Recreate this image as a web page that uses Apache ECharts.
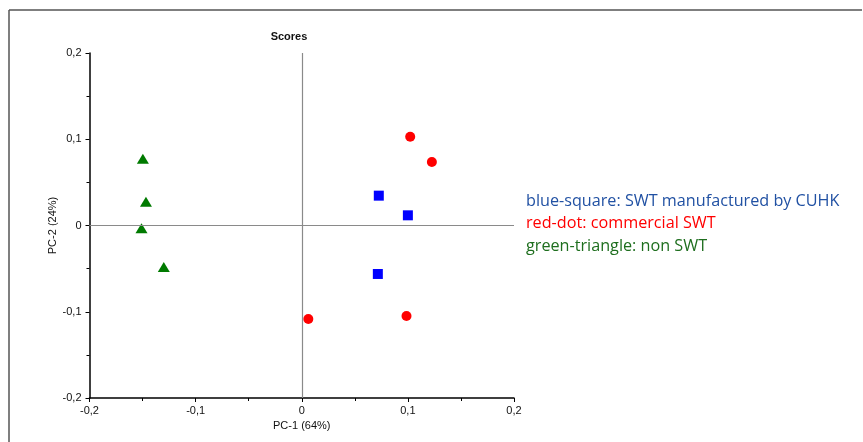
<!DOCTYPE html>
<html>
<head>
<meta charset="utf-8">
<script src="https://cdn.jsdelivr.net/npm/echarts@6/dist/echarts.min.js"></script>
<style>
html,body{margin:0;padding:0;background:#fff;}
#chart{width:863px;height:442px;}
</style>
</head>
<body>
<div id="chart"></div>
<script>
// Data
const blueSquare = [[0.0726, 0.0346], [0.1000, 0.0118], [0.0717, -0.0562]];
const redDot = [[0.1022, 0.1030], [0.1226, 0.0736], [0.0062, -0.1084], [0.0987, -0.1049]];
const greenTriangle = [[-0.1497, 0.0775], [-0.1468, 0.0276], [-0.1510, -0.0032], [-0.1300, -0.0480]];
const axisTicks = [-0.2, -0.1, 0, 0.1, 0.2];
const legendLines = [
  'blue-square: SWT manufactured by CUHK',
  'red-dot: commercial SWT',
  'green-triangle: non SWT'
];
const legendColors = ['#2151A3', '#FF0000', '#1E6E1E'];

const fmt = v => {
  if (Math.abs(v) < 1e-9) return '0';
  return String(+v.toFixed(1)).replace('.', ',');
};

const chart = echarts.init(document.getElementById('chart'), null, {renderer: 'canvas'});
const axisFont = {fontFamily: 'Liberation Sans, Arial', fontSize: 11, color: '#111'};

const option = {
  backgroundColor: '#fff',
  animation: false,
  title: {
    text: 'Scores', left: 284, top: 26, textAlign: 'center',
    textStyle: {fontFamily: 'Liberation Sans, Arial', fontSize: 11, fontWeight: 'bold', color: '#111'}
  },
  grid: {left: 89.5, right: 349, top: 53, bottom: 44, containLabel: false},
  xAxis: {
    type: 'value', min: axisTicks[0], max: axisTicks[axisTicks.length - 1], interval: 0.1,
    name: 'PC-1 (64%)', nameLocation: 'middle', nameGap: 22,
    nameTextStyle: axisFont,
    axisLine: {onZero: false, lineStyle: {color: '#000', width: 1.5}},
    axisTick: {show: true, inside: false, length: 4, lineStyle: {color: '#000'}},
    minorTick: {show: true, splitNumber: 2, length: 3, lineStyle: {color: '#000'}},
    splitLine: {show: false},
    axisLabel: Object.assign({formatter: fmt, margin: 7}, axisFont)
  },
  yAxis: {
    type: 'value', min: axisTicks[0], max: axisTicks[axisTicks.length - 1], interval: 0.1,
    name: 'PC-2 (24%)', nameLocation: 'middle', nameGap: 31,
    nameTextStyle: axisFont,
    axisLine: {onZero: false, lineStyle: {color: '#000', width: 1.5}},
    axisTick: {show: true, inside: false, length: 4, lineStyle: {color: '#000'}},
    minorTick: {show: true, splitNumber: 2, length: 3, lineStyle: {color: '#000'}},
    splitLine: {show: false},
    axisLabel: Object.assign({formatter: fmt, margin: 8}, axisFont)
  },
  series: [
    {
      type: 'scatter', data: greenTriangle, symbol: 'triangle', symbolSize: [12, 10],
      itemStyle: {color: '#007A00', opacity: 1}, z: 3,
      markLine: {
        silent: true, symbol: 'none', label: {show: false},
        lineStyle: {color: '#8a8a8a', width: 1.2, type: 'solid'},
        data: [{xAxis: 0}, {yAxis: 0}]
      }
    },
    {type: 'scatter', data: redDot, symbol: 'circle', symbolSize: 10, itemStyle: {color: '#FF0000', opacity: 1}, z: 3},
    {type: 'scatter', data: blueSquare, symbol: 'rect', symbolSize: 10, itemStyle: {color: '#0000FF', opacity: 1}, z: 3}
  ],
  graphic: [
    {type: 'line', shape: {x1: 9, y1: 10, x2: 862, y2: 10}, style: {stroke: '#555', lineWidth: 1.5}},
    {type: 'line', shape: {x1: 9, y1: 10, x2: 9, y2: 442}, style: {stroke: '#555', lineWidth: 1.5}}
  ].concat(legendLines.map((t, i) => ({
    type: 'text', left: 526, top: 193 + i * 22.7,
    style: {text: t, fill: legendColors[i], font: '16.2px "Open Sans", sans-serif'}
  })))
};
chart.setOption(option);
</script>
</body>
</html>
